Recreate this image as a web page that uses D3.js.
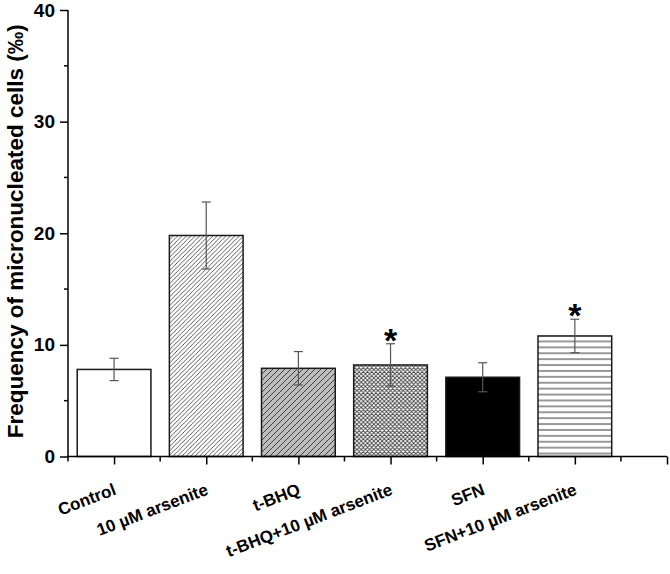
<!DOCTYPE html>
<html>
<head>
<meta charset="utf-8">
<script src="https://cdn.jsdelivr.net/npm/d3@7"></script>
<style>
  body { margin: 0; background: #fff; }
  svg text { font-family: Arial, "Liberation Sans", sans-serif; font-weight: bold; }
</style>
</head>
<body>
<script>
// values
const categories = ["Control", "10 µM arsenite", "t-BHQ", "t-BHQ+10 µM arsenite", "SFN", "SFN+10 µM arsenite"];
const means = [7.8, 19.8, 7.9, 8.2, 7.1, 10.8];
const errors = [1.0, 3.0, 1.5, 1.9, 1.3, 1.5];
const significant = [false, false, false, true, false, true];
const fills = ["#ffffff", "url(#diag)", "url(#diagGray)", "url(#cross)", "#000000", "url(#horiz)"];
const yMajor = [0, 10, 20, 30, 40];
const yMinor = [5, 15, 25, 35];

const w = 670, h = 574;
const svg = d3.select("body").append("svg")
  .attr("width", w)
  .attr("height", h);

const x = d3.scaleLinear().domain([0, 6.5]).range([68, 667]);
const y = d3.scaleLinear().domain([0, 40]).range([456.5, 10]);
const barW = x(0.8) - x(0);

const bars = means.map((m, i) => ({ name: categories[i], m: m, e: errors[i], sig: significant[i], fill: fills[i], c: i + 0.5 }));

// hatch patterns
const defs = svg.append("defs");
function diagPattern(id, size, bg, stroke, sw) {
  const p = defs.append("pattern").attr("id", id)
    .attr("patternUnits", "userSpaceOnUse")
    .attr("width", size).attr("height", size);
  p.append("rect").attr("width", size).attr("height", size).attr("fill", bg);
  p.append("path")
    .attr("d", `M0,${size} L${size},0 M${-size / 2},${size / 2} L${size / 2},${-size / 2} M${size / 2},${size * 1.5} L${size * 1.5},${size / 2}`)
    .attr("stroke", stroke).attr("stroke-width", sw);
}
diagPattern("diag", 4.4, "#fff", "#333", 0.8);
diagPattern("diagGray", 6, "#bdbdbd", "#333", 0.9);

const cs = 4.2;
const cross = defs.append("pattern").attr("id", "cross")
  .attr("patternUnits", "userSpaceOnUse")
  .attr("width", cs).attr("height", cs);
cross.append("rect").attr("width", cs).attr("height", cs).attr("fill", "#fff");
cross.append("path")
  .attr("d", `M0,${cs} L${cs},0 M0,0 L${cs},${cs} M${-cs / 2},${cs / 2} L${cs / 2},${-cs / 2} M${cs / 2},${cs * 1.5} L${cs * 1.5},${cs / 2} M${-cs / 2},${cs / 2} L${cs / 2},${cs * 1.5} M${cs / 2},${-cs / 2} L${cs * 1.5},${cs / 2}`)
  .attr("stroke", "#444").attr("stroke-width", 0.9);

const hs = 5.9;
const horiz = defs.append("pattern").attr("id", "horiz")
  .attr("patternUnits", "userSpaceOnUse")
  .attr("width", 10).attr("height", hs)
  .attr("y", y(0));
horiz.append("rect").attr("width", 10).attr("height", hs).attr("fill", "#fff");
horiz.append("line").attr("x1", 0).attr("x2", 10).attr("y1", hs / 2).attr("y2", hs / 2)
  .attr("stroke", "#333").attr("stroke-width", 1);

// bars
svg.selectAll("rect.bar").data(bars)
  .join("rect")
  .attr("class", "bar")
  .attr("x", d => x(d.c) - barW / 2)
  .attr("y", d => y(d.m))
  .attr("width", barW)
  .attr("height", d => y(0) - y(d.m))
  .attr("fill", d => d.fill)
  .attr("stroke", "#1a1a1a")
  .attr("stroke-width", 1.5);

// error bars
const eb = svg.selectAll("g.err").data(bars)
  .join("g").attr("class", "err")
  .attr("stroke", "#555").attr("stroke-width", 1.2);
eb.append("line")
  .attr("x1", d => x(d.c)).attr("x2", d => x(d.c))
  .attr("y1", d => y(d.m + d.e)).attr("y2", d => y(d.m - d.e));
[1, -1].forEach(s => {
  eb.append("line")
    .attr("x1", d => x(d.c) - 4.5).attr("x2", d => x(d.c) + 4.5)
    .attr("y1", d => y(d.m + s * d.e)).attr("y2", d => y(d.m + s * d.e));
});

// significance marks
svg.selectAll("text.star").data(bars.filter(d => d.sig))
  .join("text")
  .attr("class", "star")
  .attr("x", d => x(d.c))
  .attr("y", d => y(d.m + d.e) + 8)
  .attr("text-anchor", "middle")
  .attr("font-size", 34)
  .text("*");

// y axis
const yAxis = svg.append("g").attr("transform", `translate(${x(0)},0)`);
yAxis.call(d3.axisLeft(y).tickValues(yMajor).tickSize(8).tickPadding(5).tickFormat(d3.format("d")));
yAxis.select(".domain").attr("d", `M0,${y(40)}V${y(0)}`);
yAxis.selectAll("text").attr("font-size", 19).attr("fill", "#000");
svg.append("g").selectAll("line").data(yMinor).join("line")
  .attr("x1", x(0) - 4).attr("x2", x(0))
  .attr("y1", d => y(d)).attr("y2", d => y(d))
  .attr("stroke", "#000").attr("stroke-width", 1.5);

// x axis
const xAxis = svg.append("g").attr("transform", `translate(0,${y(0)})`);
xAxis.call(d3.axisBottom(x).tickValues(d3.range(0.5, 7, 1)).tickSize(8).tickFormat(""));
xAxis.select(".domain").attr("d", `M${x(0)},0H${x(6.5)}`);
svg.append("g").selectAll("line").data(d3.range(0, 7, 1)).join("line")
  .attr("x1", d => x(d)).attr("x2", d => x(d))
  .attr("y1", y(0)).attr("y2", y(0) + 5)
  .attr("stroke", "#000").attr("stroke-width", 1.5);
svg.selectAll(".domain, .tick line").attr("stroke", "#000").attr("stroke-width", 1.5);

// category labels, slanted
const labels = svg.selectAll("g.cat").data(bars)
  .join("g")
  .attr("class", "cat")
  .attr("transform", d => `translate(${x(d.c) + 3},494) rotate(-21)`);
labels.append("text")
  .attr("text-anchor", "end")
  .attr("font-size", 17)
  .text(d => d.name);

// y title
svg.append("text")
  .attr("transform", `translate(23,${(y(0) + y(40)) / 2 - 2}) rotate(-90)`)
  .attr("text-anchor", "middle")
  .attr("font-size", 22.5)
  .text("Frequency of micronucleated cells (‰)");
</script>
</body>
</html>
